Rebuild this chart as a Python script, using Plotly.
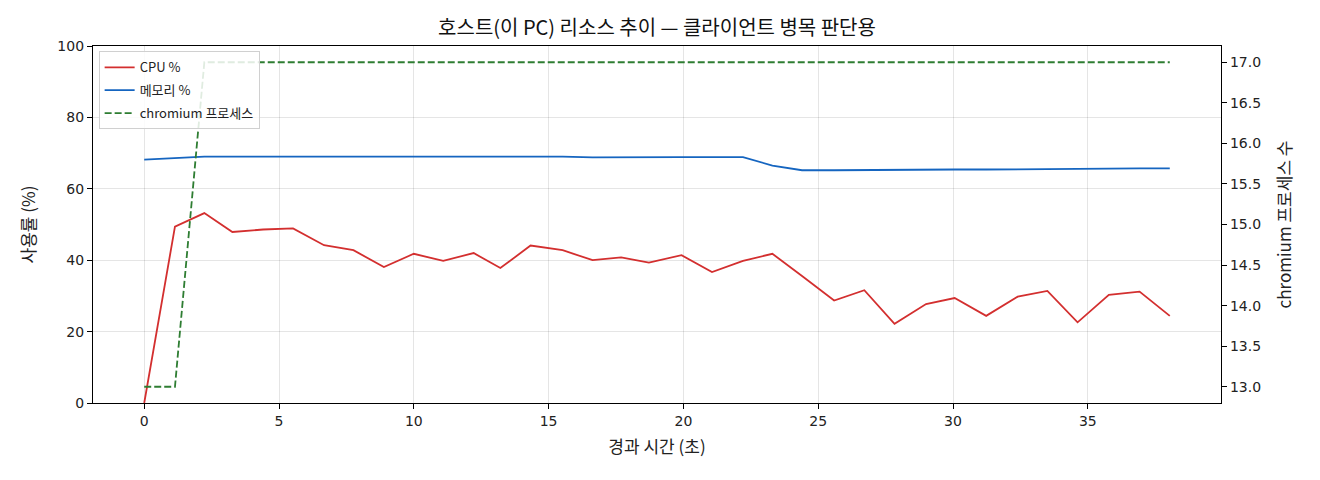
import plotly.graph_objects as go

# elapsed seconds for each sample
t = [0, 1.14, 2.23, 3.27, 4.41, 5.52, 6.67, 7.76, 8.89, 10.0, 11.09, 12.22, 13.21, 14.33,
     15.52, 16.63, 17.69, 18.72, 19.93, 21.06, 22.21, 23.3, 24.4, 25.59, 26.71, 27.83,
     29.0, 30.06, 31.23, 32.4, 33.5, 34.62, 35.78, 36.92, 38.04]

cpu = [0.0, 49.4, 53.2, 47.9, 48.6, 48.9, 44.2, 42.8, 38.1, 41.8, 39.8, 42.0, 37.8, 44.1,
       42.8, 40.0, 40.8, 39.3, 41.4, 36.7, 39.8, 41.8, 35.6, 28.7, 31.6, 22.2,
       27.7, 29.4, 24.4, 29.8, 31.4, 22.6, 30.3, 31.2, 24.4]

mem = [68.2, 68.7, 69.0, 69.0, 69.0, 69.1, 68.9, 69.1, 69.1, 69.0, 69.1, 68.9, 68.9, 69.1,
       69.0, 68.8, 68.9, 68.8, 68.9, 68.9, 68.9, 66.5, 65.2, 65.2, 65.3, 65.3,
       65.4, 65.4, 65.4, 65.5, 65.6, 65.6, 65.7, 65.7, 65.7]

procs = [13, 13, 17, 17, 17, 17, 17, 17, 17, 17, 17, 17, 17, 17,
         17, 17, 17, 17, 17, 17, 17, 17, 17, 17, 17, 17,
         17, 17, 17, 17, 17, 17, 17, 17, 17]

KR = "Noto Sans CJK KR"
NUM = "DejaVu Sans"

fig = go.Figure()
fig.add_trace(go.Scatter(x=t, y=cpu, name="CPU %", mode="lines", legendgroup="a",
                         line=dict(color="#d32f2f", width=1.8)))
fig.add_trace(go.Scatter(x=t, y=mem, name="메모리 %", mode="lines", legendgroup="b",
                         line=dict(color="#1565c0", width=1.8)))
fig.add_trace(go.Scatter(x=t, y=procs, name="chromium 프로세스", mode="lines", legendgroup="c",
                         yaxis="y2", line=dict(color="#2e7d32", width=1.8, dash="7px,3px")))

axis_common = dict(showline=True, linecolor="black", linewidth=1.2, ticks="outside",
                   ticklen=5, tickcolor="black", zeroline=False,
                   tickfont=dict(family=NUM, size=14, color="#222"))

fig.update_layout(
    width=1312, height=472,
    margin=dict(l=85, r=99, t=38, b=77),
    paper_bgcolor="white", plot_bgcolor="white",
    font=dict(family=KR, size=12, color="black"),
    title=dict(text="호스트(이 PC) 리소스 추이 — 클라이언트 병목 판단용",
               x=0.5, xref="paper", xanchor="center", y=0.958, yanchor="middle",
               font=dict(family=KR, size=20, color="#111")),
    xaxis=dict(range=[-1.9, 39.94], tickvals=[0, 5, 10, 15, 20, 25, 30, 35],
               showgrid=True, gridcolor="rgba(0,0,0,0.1)", mirror=True,
               title=dict(text="경과 시간 (초)", standoff=13,
                          font=dict(family=KR, size=17, color="#222")),
               **axis_common),
    yaxis=dict(range=[0, 100], tickvals=[0, 20, 40, 60, 80, 100],
               showgrid=True, gridcolor="rgba(0,0,0,0.1)",
               title=dict(text="사용률 (%)", standoff=17,
                          font=dict(family=KR, size=17, color="#222")),
               **axis_common),
    yaxis2=dict(range=[12.8, 17.2], overlaying="y", side="right",
                tickvals=[13, 13.5, 14, 14.5, 15, 15.5, 16, 16.5, 17], tickformat=".1f",
                showgrid=False,
                title=dict(text="chromium 프로세스 수", standoff=19,
                           font=dict(family=KR, size=17, color="#222")),
                **axis_common),
    legend=dict(x=0.005, y=0.985, xanchor="left", yanchor="top",
                bgcolor="rgba(255,255,255,0.85)", bordercolor="#d0d0d0", borderwidth=1,
                font=dict(family=KR, size=13, color="#222"),
                itemwidth=30, tracegroupgap=3),
    showlegend=True,
)

fig.write_html("out.html")
